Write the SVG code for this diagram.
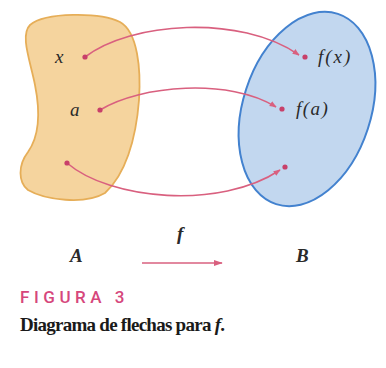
<svg xmlns="http://www.w3.org/2000/svg" width="386" height="368" viewBox="0 0 386 368">
<style>
.lbl{font-family:"Liberation Serif","DejaVu Serif",serif;font-style:italic;font-size:19px;fill:#2a2a2a;}
.conn{fill:none;stroke:#d9607f;stroke-width:1.6;}
.dot{fill:#c8406a;}
</style>
<defs>
<marker id="ah" viewBox="0 0 10 10" refX="9" refY="5" markerWidth="7" markerHeight="7" markerUnits="userSpaceOnUse" orient="auto">
<path d="M0,1 L10,5 L0,9 Z" fill="#d9607f"/>
</marker>
<marker id="ah2" viewBox="0 0 10 10" refX="9" refY="5" markerWidth="9" markerHeight="9" markerUnits="userSpaceOnUse" orient="auto">
<path d="M0,1.5 L10,5 L0,8.5 Z" fill="#d9607f"/>
</marker>
</defs>
<rect width="386" height="368" fill="#ffffff"/>
<g id="setA">
<path d="M30,25 C45,12 100,12 120,22 C138,32 141,70 139,100 C136,140 125,175 105,193 C85,205 45,200 28,190 C18,182 18,165 28,152 C40,135 40,110 35,85 C30,60 20,35 30,25 Z" fill="#f5d49e" stroke="#e6ae58" stroke-width="1.8"/>
</g>
<g id="setB">
<ellipse cx="307" cy="109" rx="64" ry="100" transform="rotate(18 307 109)" fill="#c2d7ef" stroke="#4382cf" stroke-width="2"/>
</g>
<g id="connectors">
<path class="conn" d="M85,57 C130,22 240,14 299,55" marker-end="url(#ah)"/>
<path class="conn" d="M100,110 C140,85 230,78 276,107" marker-end="url(#ah)"/>
<path class="conn" d="M67,163 C110,200 220,210 280,170" marker-end="url(#ah)"/>
<path class="conn" d="M142,263 L222,263" stroke-width="2.2" marker-end="url(#ah2)"/>
</g>
<g id="node-x"><circle class="dot" cx="85" cy="57" r="2.6"/><text class="lbl" x="55" y="63">x</text></g>
<g id="node-a"><circle class="dot" cx="100" cy="110" r="2.6"/><text class="lbl" x="70" y="116">a</text></g>
<g id="node-p"><circle class="dot" cx="67" cy="163" r="2.6"/></g>
<g id="node-fx"><circle class="dot" cx="305" cy="57" r="2.6"/><text class="lbl" x="318" y="63" letter-spacing="2">f(x)</text></g>
<g id="node-fa"><circle class="dot" cx="282" cy="109" r="2.6"/><text class="lbl" x="296" y="115" letter-spacing="1.5">f(a)</text></g>
<g id="node-fp"><circle class="dot" cx="285" cy="167" r="2.6"/></g>
<g id="labels">
<text class="lbl" x="70" y="262" font-weight="bold">A</text>
<text class="lbl" x="177" y="240" font-weight="bold">f</text>
<text class="lbl" x="296" y="262" font-weight="bold">B</text>
<text x="20" y="303" font-family="Roboto,'Liberation Sans',sans-serif" font-size="17" font-weight="500" fill="#d6477c" letter-spacing="1.5" textLength="106">FIGURA 3</text>
<text x="20" y="331" font-family="'Liberation Serif','DejaVu Serif',serif" font-size="19" font-weight="bold" fill="#1a1a1a" textLength="205">Diagrama de flechas para <tspan font-style="italic">f</tspan>.</text>
</g>
</svg>
